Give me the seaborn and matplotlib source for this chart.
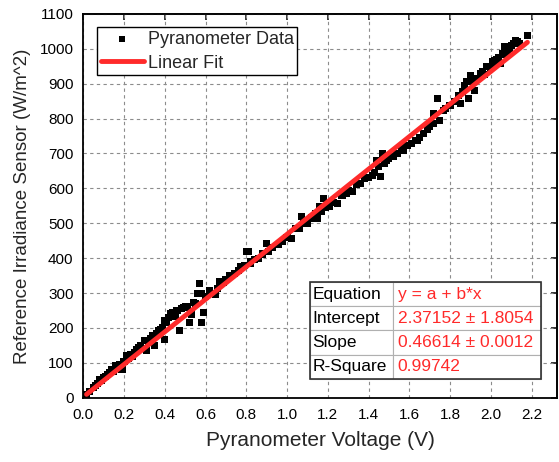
import numpy as np
import pandas as pd
import matplotlib
matplotlib.use("Agg")
import matplotlib.pyplot as plt
import matplotlib.patches as mpatches
import seaborn as sns

# === data ===
voltage = [
    0.016, 0.05, 0.08, 0.10, 0.13, 0.16, 0.19, 0.21, 0.26, 0.30,
    0.31, 0.34, 0.35, 0.37, 0.39, 0.40, 0.40, 0.43, 0.47, 0.48,
    0.50, 0.52, 0.53, 0.54, 0.57, 0.56, 0.58, 0.59, 0.58, 0.62,
    0.65, 0.67, 0.72, 0.77, 0.81, 0.82,
    0.80, 0.82, 0.86, 0.90, 0.91, 0.96, 1.02, 1.07, 1.06, 1.10,
    1.15, 1.16, 1.18, 1.17, 1.21, 1.25, 1.27, 1.32, 1.34, 1.38,
    1.42, 1.45, 1.44, 1.47, 1.46, 1.49, 1.52, 1.56, 1.57, 1.61,
    1.63,
    1.57, 1.61, 1.64, 1.67, 1.72, 1.72, 1.74, 1.75, 1.77, 1.80,
    1.84, 1.85, 1.88, 1.89, 1.90, 1.92, 1.95, 1.98, 2.01, 2.04,
    2.05, 2.07, 2.08, 2.11, 2.12, 2.18,
    0.03, 0.06, 0.07, 0.09, 0.11, 0.12, 0.14, 0.15, 0.17, 0.18,
    0.20, 0.22, 0.23, 0.24, 0.25, 0.27, 0.28, 0.29, 0.32, 0.33,
    0.36, 0.38, 0.41, 0.42, 0.44, 0.45, 0.46, 0.49, 0.51, 0.55,
    0.60, 0.63, 0.66, 0.69, 0.70, 0.74, 0.76, 0.79, 0.84, 0.88,
    0.93, 0.98, 1.00, 1.04, 1.08, 1.12, 1.14, 1.19, 1.23, 1.29,
    1.30, 1.36, 1.40, 1.43, 1.48, 1.50, 1.54, 1.59, 1.65, 1.69,
    1.70, 1.78, 1.82, 1.86, 1.87, 1.91, 1.93, 1.96, 1.97, 1.99,
    2.00, 2.02, 2.03, 2.06, 2.09, 2.10, 2.13, 2.14,
]
irradiance = [
    10, 29, 53, 58, 72, 91, 82, 120, 139, 163,
    135, 178, 149, 192, 202, 221, 168, 240, 192, 255,
    260, 216, 240, 274, 327, 298, 298, 245, 216, 308,
    296, 332, 351, 375, 418, 385,
    419, 390, 400, 443, 419, 438, 457, 519, 486, 500,
    514, 548, 571, 533, 548, 557, 581, 590, 610, 629,
    638, 662, 681, 700, 633, 681, 690, 710, 719, 729,
    738,
    709, 728, 738, 757, 786, 814, 857, 795, 824, 838,
    867, 843, 905, 857, 924, 881, 929, 948, 962, 976,
    957, 1005, 990, 1014, 1024, 1038,
    18, 35, 42, 50, 62, 66, 80, 75, 88, 95,
    105, 112, 125, 118, 130, 145, 150, 142, 160, 170,
    185, 195, 215, 230, 245, 232, 250, 258, 262, 270,
    290, 300, 312, 330, 340, 355, 365, 378, 395, 412,
    430, 448, 460, 485, 500, 515, 528, 545, 560, 585,
    595, 615, 632, 645, 670, 685, 700, 722, 745, 770,
    778, 830, 850, 878, 895, 905, 915, 935, 925, 950,
    945, 965, 970, 985, 1000, 1010, 1020, 1015,
]

# fit parameters as printed in the figure (slope per mV)
fit_intercept = 2.37152
fit_intercept_err = 1.8054
fit_slope = 0.46614
fit_slope_err = 0.0012
r_square = 0.99742

table_labels = ["Equation", "Intercept", "Slope", "R-Square"]
table_values = [
    "y = a + b*x",
    f"{fit_intercept:.5f} \u00b1 {fit_intercept_err:.4f}",
    f"{fit_slope:.5f} \u00b1 {fit_slope_err:.4f}",
    f"{r_square:.5f}",
]

df = pd.DataFrame({"V": voltage, "E": irradiance})
fit_x = np.array([df["V"].min(), df["V"].max()])
fit_df = pd.DataFrame({"V": fit_x, "E": fit_intercept + fit_slope * fit_x * 1000})

# === style ===
sns.set_theme(style="white")
plt.rcParams["font.family"] = ["Liberation Sans", "DejaVu Sans"]
RED = "#ff2a2a"

fig = plt.figure(figsize=(5.59, 4.62), dpi=100)
ax = fig.add_axes([0.149, 0.139, 0.847, 0.831])

sns.scatterplot(data=df, x="V", y="E", ax=ax, marker="s", s=26, color="black",
                edgecolor="none", label="Pyranometer Data", zorder=3)
sns.lineplot(data=fit_df, x="V", y="E", ax=ax, color=RED, lw=3.5,
             label="Linear Fit", zorder=4)

ax.set_xlim(0, 2.324)
ax.set_ylim(0, 1100)
ax.set_xticks(np.arange(0, 2.21, 0.2))
ax.set_xticklabels([f"{t:.1f}" for t in np.arange(0, 2.21, 0.2)])
ax.set_yticks(np.arange(0, 1101, 100))
ax.grid(True, color="#8c8c8c", ls=(0, (3, 3)), lw=0.8)
ax.set_axisbelow(True)

for s in ax.spines.values():
    s.set_color("black")
    s.set_linewidth(1.3)
ax.tick_params(direction="out", length=4, width=1.3, labelsize=11,
               colors="black", pad=3)

# mirrored axes, ticks pointing inwards, no labels
top = ax.secondary_xaxis("top")
top.set_xticks(np.arange(0, 2.21, 0.2))
top.tick_params(direction="in", length=4, width=1.3, labeltop=False)
right = ax.secondary_yaxis("right")
right.set_yticks(np.arange(0, 1101, 100))
right.tick_params(direction="in", length=4, width=1.3, labelright=False)

ax.set_xlabel("Pyranometer Voltage (V)", fontsize=15, labelpad=7)
ax.set_ylabel("Reference Irradiance Sensor (W/m^2)", fontsize=13.5, labelpad=6)

leg = ax.legend(loc="upper left", bbox_to_anchor=(0.029, 0.966), fontsize=13,
                frameon=True, fancybox=False, framealpha=1, edgecolor="black",
                handlelength=2.4, borderpad=0.2, labelspacing=0.4,
                handletextpad=0.2, borderaxespad=0, markerscale=0.9)
leg.get_frame().set_linewidth(1.0)

# fit results table
tbl = ax.table(cellText=[[l, v] for l, v in zip(table_labels, table_values)],
               colWidths=[0.36, 0.64], cellLoc="left",
               bbox=[0.479, 0.049, 0.487, 0.2525], zorder=5)
tbl.auto_set_font_size(False)
for (r, c), cell in tbl.get_celld().items():
    cell.set_edgecolor("#b0b0b0")
    cell.set_linewidth(0.8)
    cell.set_facecolor("white")
    cell.PAD = 0.03
    cell.get_text().set_fontsize(12.5)
    cell.get_text().set_color(RED if c == 1 else "black")
ax.add_patch(mpatches.Rectangle((0.479, 0.049), 0.487, 0.2525,
                                transform=ax.transAxes, fill=False,
                                edgecolor="#333333", lw=1.2, zorder=6))

fig.savefig("out.png", dpi=100)
